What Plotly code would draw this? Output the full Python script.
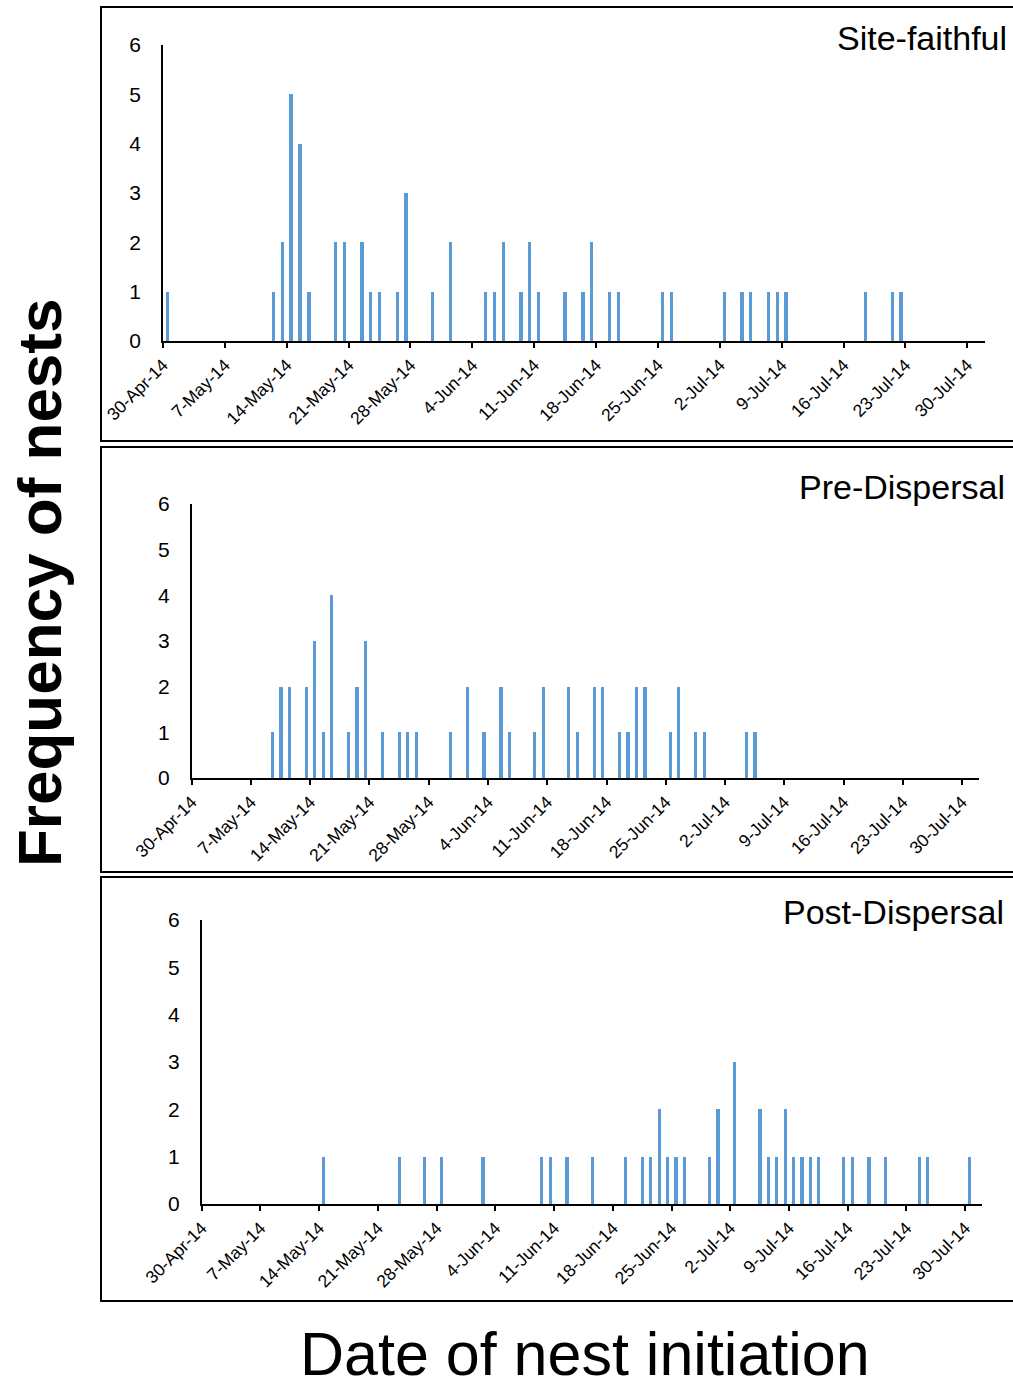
import plotly.graph_objects as go

# ---------------- data ----------------
site_dates = ["2014-04-30", "2014-05-12", "2014-05-13", "2014-05-14", "2014-05-15", "2014-05-16",
              "2014-05-19", "2014-05-20", "2014-05-22", "2014-05-23", "2014-05-24", "2014-05-26",
              "2014-05-27", "2014-05-30", "2014-06-01", "2014-06-05", "2014-06-06", "2014-06-07",
              "2014-06-09", "2014-06-10", "2014-06-11", "2014-06-14", "2014-06-16", "2014-06-17",
              "2014-06-19", "2014-06-20", "2014-06-25", "2014-06-26", "2014-07-02", "2014-07-04",
              "2014-07-05", "2014-07-07", "2014-07-08", "2014-07-09", "2014-07-18", "2014-07-21",
              "2014-07-22"]
site_counts = [1, 1, 2, 5, 4, 1,
               2, 2, 2, 1, 1, 1,
               3, 1, 2, 1, 1, 2,
               1, 2, 1, 1, 1, 2,
               1, 1, 1, 1, 1, 1,
               1, 1, 1, 1, 1, 1,
               1]

pre_dates = ["2014-05-09", "2014-05-10", "2014-05-11", "2014-05-13", "2014-05-14", "2014-05-15",
             "2014-05-16", "2014-05-18", "2014-05-19", "2014-05-20", "2014-05-22", "2014-05-24",
             "2014-05-25", "2014-05-26", "2014-05-30", "2014-06-01", "2014-06-03", "2014-06-05",
             "2014-06-06", "2014-06-09", "2014-06-10", "2014-06-13", "2014-06-14", "2014-06-16",
             "2014-06-17", "2014-06-19", "2014-06-20", "2014-06-21", "2014-06-22", "2014-06-25",
             "2014-06-26", "2014-06-28", "2014-06-29", "2014-07-04", "2014-07-05"]
pre_counts = [1, 2, 2, 2, 3, 1,
              4, 1, 2, 3, 1, 1,
              1, 1, 1, 2, 1, 2,
              1, 1, 2, 2, 1, 2,
              2, 1, 1, 2, 2, 1,
              2, 1, 1, 1, 1]

post_dates = ["2014-05-14", "2014-05-23", "2014-05-26", "2014-05-28", "2014-06-02", "2014-06-09",
              "2014-06-10", "2014-06-12", "2014-06-15", "2014-06-19", "2014-06-21", "2014-06-22",
              "2014-06-23", "2014-06-24", "2014-06-25", "2014-06-26", "2014-06-29", "2014-06-30",
              "2014-07-02", "2014-07-05", "2014-07-06", "2014-07-07", "2014-07-08", "2014-07-09",
              "2014-07-10", "2014-07-11", "2014-07-12", "2014-07-15", "2014-07-16", "2014-07-18",
              "2014-07-20", "2014-07-24", "2014-07-25", "2014-07-30"]
post_counts = [1, 1, 1, 1, 1, 1,
               1, 1, 1, 1, 1, 1,
               2, 1, 1, 1, 1, 2,
               3, 2, 1, 1, 2, 1,
               1, 1, 1, 1, 1, 1,
               1, 1, 1, 1]

panel_titles = ["Site-faithful", "Pre-Dispersal", "Post-Dispersal"]
y_ticks = [0, 1, 2, 3, 4, 5, 6]
x_start = "2014-04-30"
x_end = "2014-08-01"

# ---------------- figure ----------------
W, H = 1013, 1387
DAY = 86400000
FONT = "Liberation Sans, Arial, sans-serif"
BAR = "#5B9BD5"

def px_x(p):
    return p / W

def px_y(p):
    return 1 - p / H

# plot areas in pixels: (x_left, x_right, y_top, y_bottom)
areas = [(163, 985, 45, 341), (191.7, 979, 504, 778), (201.7, 982, 920, 1204)]
boxes = [(7, 441), (447, 872), (877, 1301)]
title_pos = [(1009, 38), (1007, 487), (1006, 912)]

series = [(site_dates, site_counts), (pre_dates, pre_counts), (post_dates, post_counts)]

fig = go.Figure()
layout = dict(
    width=W, height=H, autosize=False,
    margin=dict(l=0, r=0, t=0, b=0, pad=0, autoexpand=False),
    paper_bgcolor="white", plot_bgcolor="white",
    showlegend=False, bargap=0,
    font=dict(family=FONT, color="black"),
)

shapes = []
annotations = []
for i, ((d, c), (xl, xr, yt, yb)) in enumerate(zip(series, areas)):
    suffix = "" if i == 0 else str(i + 1)
    fig.add_trace(go.Bar(
        x=d, y=c, xaxis="x" + suffix, yaxis="y" + suffix,
        xperiod=DAY, xperiodalignment="middle",
        width=0.38 * DAY, marker=dict(color=BAR, line=dict(width=0)),
    ))
    layout["xaxis" + suffix] = dict(
        domain=[px_x(xl), px_x(xr)], anchor="y" + suffix, type="date",
        range=[x_start, x_end], tickmode="linear", tick0=x_start, dtick=7 * DAY,
        tickformat="%-d-%b-%y", tickangle=-45, tickfont=dict(size=17.5, family=FONT),
        showline=True, linecolor="black", linewidth=2,
        ticks="outside", ticklen=5, tickwidth=2, tickcolor="black",
        showgrid=False, zeroline=False, automargin=False,
    )
    layout["yaxis" + suffix] = dict(
        domain=[px_y(yb), px_y(yt)], anchor="x" + suffix,
        range=[0, 6], tickmode="array", tickvals=y_ticks,
        tickfont=dict(size=21, family=FONT),
        showline=True, linecolor="black", linewidth=1.5,
        ticks="", ticklabelstandoff=16,
        showgrid=False, zeroline=False, automargin=False,
    )
    bt, bb = boxes[i]
    shapes.append(dict(type="rect", xref="paper", yref="paper",
                       x0=px_x(101), x1=px_x(1030), y0=px_y(bb), y1=px_y(bt),
                       line=dict(color="black", width=2), fillcolor="rgba(0,0,0,0)"))
    tx, ty = title_pos[i]
    annotations.append(dict(text=panel_titles[i], xref="paper", yref="paper",
                            x=px_x(tx), y=px_y(ty), xanchor="right", yanchor="middle",
                            showarrow=False, font=dict(size=34, family=FONT, color="black")))

annotations.append(dict(text="<b>Frequency of nests</b>", xref="paper", yref="paper",
                        x=px_x(39), y=px_y(583), xanchor="center", yanchor="middle",
                        textangle=-90, showarrow=False,
                        font=dict(size=62, family=FONT, color="black")))
annotations.append(dict(text="Date of nest initiation", xref="paper", yref="paper",
                        x=px_x(585), y=px_y(1354), xanchor="center", yanchor="middle",
                        showarrow=False, font=dict(size=61, family=FONT, color="black")))

layout["shapes"] = shapes
layout["annotations"] = annotations
fig.update_layout(**layout)
fig.write_html("out.html")
